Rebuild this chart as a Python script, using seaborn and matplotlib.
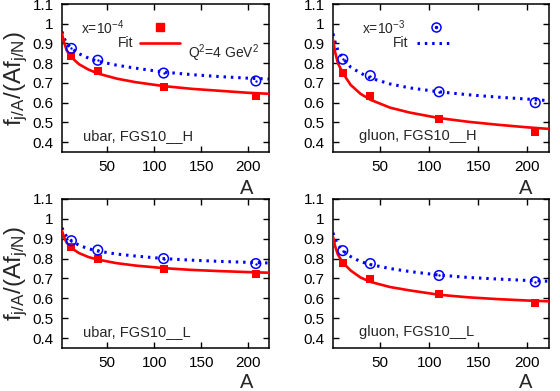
import matplotlib
matplotlib.use("Agg")
import matplotlib.pyplot as plt
import seaborn as sns
import pandas as pd

# ---- data ----
A_nuclei = [12, 40, 110, 208]
A_fit = [2, 4, 7, 12, 20, 30, 40, 60, 80, 110, 140, 170, 200, 222]

# x = 1e-4 (red squares) and x = 1e-3 (blue circles)
ubar_H_x4 = [0.835, 0.760, 0.680, 0.632]
ubar_H_x3 = [0.875, 0.815, 0.750, 0.710]
gluon_H_x4 = [0.748, 0.633, 0.517, 0.450]
gluon_H_x3 = [0.820, 0.737, 0.655, 0.600]
ubar_L_x4 = [0.860, 0.800, 0.750, 0.725]
ubar_L_x3 = [0.890, 0.843, 0.800, 0.775]
gluon_L_x4 = [0.780, 0.697, 0.620, 0.578]
gluon_L_x3 = [0.840, 0.775, 0.715, 0.683]

ubar_H_fit4 = [0.95, 0.91, 0.865, 0.83, 0.795, 0.768, 0.748, 0.722, 0.704, 0.684, 0.670, 0.660, 0.650, 0.645]
ubar_H_fit3 = [0.96, 0.93, 0.90, 0.875, 0.848, 0.826, 0.81, 0.79, 0.775, 0.755, 0.742, 0.732, 0.724, 0.72]
gluon_H_fit4 = [0.92, 0.86, 0.80, 0.75, 0.69, 0.645, 0.615, 0.575, 0.55, 0.522, 0.503, 0.488, 0.475, 0.467]
gluon_H_fit3 = [0.95, 0.91, 0.865, 0.825, 0.78, 0.75, 0.725, 0.695, 0.675, 0.655, 0.64, 0.628, 0.618, 0.61]
ubar_L_fit4 = [0.94, 0.91, 0.88, 0.853, 0.828, 0.808, 0.795, 0.777, 0.765, 0.752, 0.743, 0.737, 0.732, 0.729]
ubar_L_fit3 = [0.955, 0.935, 0.91, 0.89, 0.867, 0.85, 0.838, 0.823, 0.813, 0.80, 0.792, 0.786, 0.781, 0.778]
gluon_L_fit4 = [0.91, 0.865, 0.82, 0.78, 0.74, 0.705, 0.683, 0.657, 0.64, 0.618, 0.605, 0.596, 0.589, 0.585]
gluon_L_fit3 = [0.93, 0.90, 0.87, 0.84, 0.81, 0.785, 0.77, 0.75, 0.735, 0.717, 0.705, 0.697, 0.69, 0.686]

panel_labels = ["ubar, FGS10__H", "gluon, FGS10__H", "ubar, FGS10__L", "gluon, FGS10__L"]
y_ticks = [0.4, 0.5, 0.6, 0.7, 0.8, 0.9, 1.0, 1.1]
y_tick_labels = ["0.4", "0.5", "0.6", "0.7", "0.8", "0.9", "1", "1.1"]
x_ticks = [50, 100, 150, 200]

# ---- style ----
sns.set_theme(style="ticks")
plt.rcParams["font.family"] = ["Liberation Sans", "DejaVu Sans"]
plt.rcParams["mathtext.fontset"] = "custom"
plt.rcParams["mathtext.rm"] = "Liberation Sans"
plt.rcParams["mathtext.it"] = "Liberation Sans"
plt.rcParams["mathtext.default"] = "regular"

RED = "#ff0000"
BLUE = "#0000ff"

fig = plt.figure(figsize=(5.6, 3.91), dpi=100)
W, H = 560, 391

def ax_at(x0, x1, ytop, ybot):
    return fig.add_axes([x0 / W, 1 - ybot / H, (x1 - x0) / W, (ybot - ytop) / H])

axes = [
    ax_at(62, 269, 4, 152),
    ax_at(333, 549, 4, 152),
    ax_at(62, 269, 199, 348),
    ax_at(333, 549, 199, 348),
]

panels = [
    (ubar_H_x4, ubar_H_x3, ubar_H_fit4, ubar_H_fit3),
    (gluon_H_x4, gluon_H_x3, gluon_H_fit4, gluon_H_fit3),
    (ubar_L_x4, ubar_L_x3, ubar_L_fit4, ubar_L_fit3),
    (gluon_L_x4, gluon_L_x3, gluon_L_fit4, gluon_L_fit3),
]

for i, (ax, (p4, p3, f4, f3)) in enumerate(zip(axes, panels)):
    fit_df = pd.DataFrame({"A": A_fit, "fit4": f4, "fit3": f3})
    pts_df = pd.DataFrame({"A": A_nuclei, "x4": p4, "x3": p3})

    sns.lineplot(data=fit_df, x="A", y="fit3", ax=ax, color=BLUE, lw=2.2,
                 linestyle=(0, (0.8, 1.6)), estimator=None, sort=False, zorder=2)
    sns.lineplot(data=fit_df, x="A", y="fit4", ax=ax, color=RED, lw=1.9,
                 estimator=None, sort=False, zorder=3)
    sns.scatterplot(data=pts_df, x="A", y="x4", ax=ax, marker="s", s=38,
                    color=RED, edgecolor=RED, linewidth=0, zorder=4)
    sns.scatterplot(data=pts_df, x="A", y="x3", ax=ax, marker="o", s=48,
                    facecolor="none", edgecolor=BLUE, linewidth=1.1, zorder=5)
    sns.scatterplot(data=pts_df, x="A", y="x3", ax=ax, marker="o", s=3,
                    color=BLUE, linewidth=0, zorder=5)

    ax.set_xlim(2, 222)
    ax.set_ylim(0.35, 1.1)
    ax.set_yticks(y_ticks)
    ax.set_yticklabels(y_tick_labels)
    ax.set_xticks(x_ticks)
    ax.tick_params(direction="in", length=4.5, width=1.0, top=True, right=True,
                   labelsize=11, pad=6, colors="black")
    for sp in ax.spines.values():
        sp.set_linewidth(1.1)
        sp.set_color("black")
        sp.set_visible(True)
    ax.set_xlabel("A", fontsize=14.5)
    ax.xaxis.set_label_coords(0.89, -0.18 if i < 2 else -0.165)
    if i % 2 == 0:
        ax.set_ylabel(r"f$_{j/A}$/(Af$_{j/N}$)", fontsize=17.5)
        ax.yaxis.set_label_coords(-0.155, 0.5)
    else:
        ax.set_ylabel("")
    ax.text(0.10 if i % 2 == 0 else 0.12, 0.105, panel_labels[i],
            transform=ax.transAxes, fontsize=10.5, ha="left", va="center")

# legends (gnuplot style: text then sample)
ax = axes[0]
ax.text(0.30, 0.838, r"x=10$^{-4}$", transform=ax.transAxes, ha="right",
        va="center", fontsize=10)
ax.plot([0.473], [0.845], transform=ax.transAxes, marker="s", ms=5.8,
        color=RED, ls="none", clip_on=False)
ax.text(0.343, 0.736, "Fit", transform=ax.transAxes, ha="right",
        va="center", fontsize=10)
ax.plot([0.377, 0.570], [0.736, 0.736], transform=ax.transAxes, color=RED,
        lw=1.9, clip_on=False)
ax.text(0.955, 0.669, r"Q$^2$=4 GeV$^2$", transform=ax.transAxes, ha="right",
        va="center", fontsize=10)

ax = axes[1]
ax.text(0.334, 0.838, r"x=10$^{-3}$", transform=ax.transAxes, ha="right",
        va="center", fontsize=10)
ax.plot([0.478], [0.845], transform=ax.transAxes, marker="o", ms=6.5,
        mfc="none", mec=BLUE, mew=1.1, ls="none", clip_on=False)
ax.plot([0.478], [0.845], transform=ax.transAxes, marker="o", ms=1.5,
        color=BLUE, ls="none", clip_on=False)
ax.text(0.348, 0.736, "Fit", transform=ax.transAxes, ha="right",
        va="center", fontsize=10)
ax.plot([0.39, 0.556], [0.736, 0.736], transform=ax.transAxes, color=BLUE,
        lw=2.2, linestyle=(0, (0.8, 1.6)), clip_on=False)

fig.savefig("out.png", dpi=100)
